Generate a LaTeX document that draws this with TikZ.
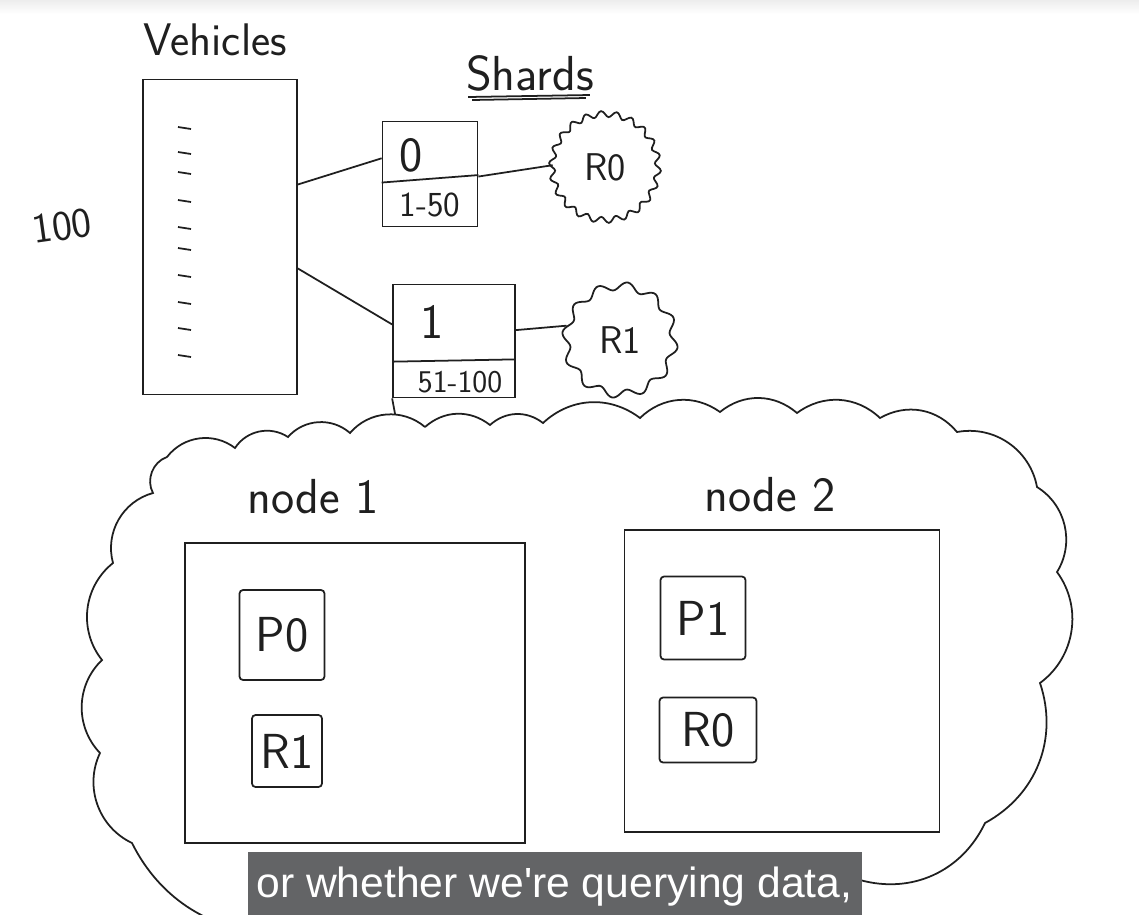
\documentclass[tikz,border=0pt]{standalone}
\usepackage{fontspec}
\newfontfamily\subfont{Liberation Sans}
\usetikzlibrary{positioning, calc}
\definecolor{ink}{HTML}{1F1F1F}
\definecolor{subbar}{HTML}{636466}
\newcommand{\hand}[1]{\fontsize{#1}{#1}\selectfont\sffamily}
% jagged outline round a replica node: node, radius, amplitude, bumps
\newcommand{\jagline}[4]{%
  \draw[pen, shift={(#1.center)}] plot[domain=0:360, samples=181, smooth] (\x:{#2+#3*sin(#4*\x)}) -- cycle;}

\tikzset{
  pen/.style={draw=ink, line width=1pt},
  tablebox/.style={pen, rectangle, inner sep=0pt},
  shardbox/.style={pen, rectangle, inner sep=0pt},
  hostbox/.style={pen, rectangle, inner sep=0pt},
  partbox/.style={pen, rectangle, rounded corners=2pt, inner sep=0pt, font=\hand{28}, text=ink},
  replica/.style={circle, inner sep=0pt, font=\hand{22}, text=ink},
  scrawl/.style={text=ink, inner sep=1pt},
}

\begin{document}
\begin{tikzpicture}[x=0.02cm, y=-0.02cm]
\useasboundingbox (0,0) rectangle (1139,914);
\fill[white] (0,0) rectangle (1139,914);
\shade[top color=gray!14, bottom color=white] (0,0) rectangle (1139,14);

% the table and its shards
\node (vehicles) [tablebox, minimum width=3.08cm, minimum height=6.3cm] at (220,237) {};
\node (vehtitle) [scrawl, font=\hand{26}] at (215,40) {Vehicles};
\node (count) [scrawl, font=\hand{24}, rotate=8] at (62,226) {100};
\foreach \ty in {127,152,172,200,227,248,275,302,328,355}
  \draw[pen] (178,\ty) -- (191,\ty+2);

\node (shardstitle) [scrawl, font=\hand{28}, anchor=base] at (530,90) {Shards};
\draw[pen] ($(shardstitle.base west)+(4,7)$) -- ($(shardstitle.base east)+(-6,5)$);
\draw[pen] ($(shardstitle.base west)+(8,10)$) -- ($(shardstitle.base east)+(-10,8)$);

\node (shard0) [shardbox, minimum width=1.9cm, minimum height=2.1cm] at (430,174) {};
\draw[pen] ($(shard0.north west)!0.58!(shard0.south west)$) -- ($(shard0.north east)!0.51!(shard0.south east)$);
\node (s0id) [scrawl, font=\hand{28}] at (411,155) {0};
\node (s0range) [scrawl, font=\hand{20}] at (430,205) {1-50};

\node (shard1) [shardbox, minimum width=2.44cm, minimum height=2.26cm] at (454,341) {};
\draw[pen] ($(shard1.north west)!0.68!(shard1.south west)$) -- ($(shard1.north east)!0.66!(shard1.south east)$);
\node (s1id) [scrawl, font=\hand{28}] at (432,322) {1};
\node (s1range) [scrawl, font=\hand{18}] at (460,382) {51-100};
\draw[pen] (shard1.south west) -- ++(3,16);

% replicas of the shards
\node (r0cloud) [replica, minimum size=2.08cm] at (605,167) {R0};
\jagline{r0cloud}{53}{3}{22}
\node (r1cloud) [replica, minimum size=2.2cm] at (620,340) {R1};
\jagline{r1cloud}{54}{4}{12}

\draw[pen] (vehicles.34) -- (shard0.162);
\draw[pen] (vehicles.-22) -- (shard1.165);
\draw[pen] (shard0.-3) -- (r0cloud.178);
\draw[pen] (shard1.10) -- (r1cloud.165);

% the cluster
\begin{scope}
\clip (0,0) rectangle (1139,914);
\draw[pen] (425,427) to[bend left=40] (490,425) to[bend left=40] (543,423)
  to[bend left=40] (640,418) to[bend left=40] (720,412) to[bend left=40] (797,413)
  to[bend left=40] (880,418) to[bend left=40] (957,432) to[bend left=45] (1037,487)
  to[bend left=45] (1057,572) to[bend left=45] (1040,683) to[bend left=40] (985,823)
  to[bend left=40] (860,880) to[bend left=40] (740,925) to[bend left=40] (600,925)
  to[bend left=40] (460,925) to[bend left=40] (320,925) to[bend left=40] (132,843)
  to[bend left=45] (100,753) to[bend left=45] (102,660) to[bend left=45] (113,563)
  to[bend left=45] (153,493) to[bend left=50] (167,457) to[bend left=45] (235,448)
  to[bend left=45] (288,437) to[bend left=45] (350,433) to[bend left=45] (425,427);
\end{scope}

\node (host1) [hostbox, minimum width=6.8cm, minimum height=6cm] at (355,693) {};
\node (host1title) [scrawl, font=\hand{28}] at (313,497) {node 1};
\node (p0) [partbox, minimum width=1.7cm, minimum height=1.8cm] at (282,635) {P0};
\node (r1) [partbox, minimum width=1.4cm, minimum height=1.44cm] at (287,751) {R1};

\node (host2) [hostbox, minimum width=6.3cm, minimum height=6.04cm] at (782,681) {};
\node (host2title) [scrawl, font=\hand{28}] at (770,495) {node 2};
\node (p1) [partbox, minimum width=1.7cm, minimum height=1.66cm] at (703,618) {P1};
\node (r0) [partbox, minimum width=1.94cm, minimum height=1.3cm] at (708,730) {R0};

% subtitle bar
\node (subtitle) [fill=subbar, anchor=north west, inner sep=0pt, minimum width=12.28cm, minimum height=1.3cm] at (248,852) {};
\node (subtext) [anchor=base west, text=white, inner sep=0pt, font=\subfont\fontsize{24}{28}\selectfont] at (256,897) {\resizebox{11.92cm}{\height}{or whether we're querying data,}};
\end{tikzpicture}
\end{document}
